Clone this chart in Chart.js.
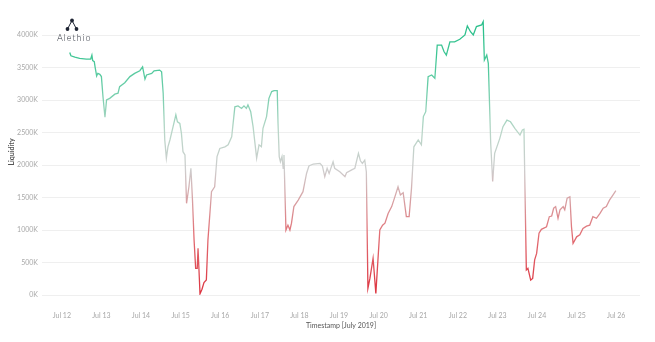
<!DOCTYPE html>
<html>
<head>
<meta charset="utf-8">
<script src="https://cdn.jsdelivr.net/npm/chart.js@4"></script>
<style>
  html, body { margin: 0; padding: 0; background: #fff; }
  #wrap { width: 655px; height: 342px; }
</style>
</head>
<body>
<div id="wrap"><canvas id="myChart" width="655" height="342"></canvas></div>
<script>
// day of July 2019 (decimal) and liquidity in K
var days = [
  12.20, 12.23, 12.33, 12.45, 12.62, 12.73, 12.76, 12.78, 12.82, 12.84, 12.88, 12.91, 12.96, 13.00, 13.04, 13.09,
  13.13, 13.21, 13.34, 13.42, 13.46, 13.59, 13.72, 13.84, 13.97, 14.04, 14.10, 14.14, 14.27, 14.33, 14.47, 14.52,
  14.56, 14.60, 14.64, 14.68, 14.73, 14.81, 14.88, 14.92, 14.98, 15.02, 15.06, 15.11, 15.15, 15.21, 15.26, 15.30,
  15.34, 15.38, 15.42, 15.44, 15.49, 15.54, 15.59, 15.65, 15.69, 15.78, 15.86, 15.92, 15.99, 16.12, 16.20, 16.29,
  16.37, 16.45, 16.54, 16.60, 16.66, 16.70, 16.77, 16.83, 16.92, 16.98, 17.04, 17.08, 17.17, 17.23, 17.30, 17.36,
  17.44, 17.46, 17.49, 17.52, 17.56, 17.59, 17.61, 17.66, 17.71, 17.76, 17.80, 17.86, 17.97, 18.09, 18.18, 18.24,
  18.35, 18.52, 18.58, 18.64, 18.70, 18.75, 18.85, 18.89, 19.02, 19.15, 19.19, 19.32, 19.40, 19.49, 19.54, 19.59,
  19.65, 19.69, 19.73, 19.78, 19.86, 19.93, 20.03, 20.10, 20.16, 20.24, 20.33, 20.41, 20.49, 20.55, 20.62, 20.70,
  20.77, 20.83, 20.89, 21.00, 21.08, 21.13, 21.19, 21.25, 21.34, 21.42, 21.48, 21.59, 21.65, 21.71, 21.80, 21.92,
  22.05, 22.18, 22.24, 22.32, 22.39, 22.47, 22.60, 22.64, 22.67, 22.73, 22.77, 22.83, 22.88, 22.93, 23.06, 23.14,
  23.24, 23.33, 23.44, 23.57, 23.63, 23.67, 23.73, 23.77, 23.84, 23.89, 23.94, 23.99, 24.05, 24.11, 24.24, 24.31,
  24.37, 24.42, 24.47, 24.53, 24.58, 24.66, 24.70, 24.76, 24.83, 24.87, 24.91, 25.00, 25.08, 25.16, 25.25, 25.33,
  25.41, 25.50, 25.59, 25.67, 25.75, 25.83, 25.92, 25.99
];
var liquidity = [
  3730, 3680, 3660, 3640, 3630, 3630, 3690, 3605, 3590, 3510, 3370, 3410, 3395, 3360, 3050, 2735,
  3000, 3025, 3090, 3105, 3205, 3265, 3360, 3410, 3450, 3510, 3320, 3385, 3410, 3450, 3460, 3435,
  3105, 2385, 2105, 2280, 2385, 2590, 2770, 2665, 2640, 2490, 2205, 2155, 1410, 1665, 1950, 1460,
  845, 410, 410, 720, 20, 90, 190, 230, 845, 1590, 1665, 2130, 2255, 2280, 2310, 2435,
  2895, 2910, 2870, 2910, 2870, 2925, 2820, 2590, 2105, 2310, 2280, 2565, 2745, 3025, 3130, 3145,
  3145, 2640, 2130, 2050, 2130, 1950, 2155, 1000, 1075, 1000, 1105, 1360, 1460, 1590, 1870, 1985,
  2015, 2025, 1985, 1820, 1950, 1870, 2050, 1950, 1895, 1820, 1880, 1925, 1950, 2180, 2065, 2025,
  2075, 1895, 105, 255, 565, 25, 1000, 1075, 1105, 1255, 1360, 1510, 1665, 1540, 1575, 1205,
  1205, 1640, 2280, 2385, 2310, 2745, 2820, 3360, 3385, 3335, 3845, 3845, 3745, 3690, 3895, 3895,
  3935, 4000, 4140, 4050, 4000, 4130, 4155, 4205, 3615, 3690, 3565, 2335, 1745, 2180, 2410, 2590,
  2690, 2665, 2565, 2460, 2540, 2550, 385, 410, 230, 255, 540, 640, 950, 1010, 1050, 1205,
  1215, 1335, 1360, 1180, 1310, 1360, 1310, 1490, 1510, 1050, 795, 895, 925, 1025, 1060, 1075,
  1205, 1180, 1255, 1335, 1360, 1460, 1540, 1605
];
var xTickDays = [12, 13, 14, 15, 16, 17, 18, 19, 20, 21, 22, 23, 24, 25, 26];
var yTickValues = [0, 500, 1000, 1500, 2000, 2500, 3000, 3500, 4000];

var points = days.map(function(d, i) { return { x: d, y: liquidity[i] }; });

function lineGradient(context) {
  var chart = context.chart;
  var area = chart.chartArea;
  if (!area) return '#cccccc';
  var y = chart.scales.y;
  var top = y.getPixelForValue(4200);
  var bottom = y.getPixelForValue(0);
  var g = chart.ctx.createLinearGradient(0, bottom, 0, top);
  g.addColorStop(0, 'rgb(220,50,62)');
  g.addColorStop(0.22, 'rgb(226,110,116)');
  g.addColorStop(0.46, 'rgb(206,206,206)');
  g.addColorStop(0.6, 'rgb(185,214,200)');
  g.addColorStop(0.75, 'rgb(110,206,170)');
  g.addColorStop(0.88, 'rgb(62,198,148)');
  g.addColorStop(1, 'rgb(40,190,138)');
  return g;
}

var logoPlugin = {
  id: 'logo',
  afterDraw: function(chart) {
    var ctx = chart.ctx;
    ctx.save();
    ctx.strokeStyle = '#1e2433';
    ctx.fillStyle = '#1e2433';
    ctx.lineWidth = 1;
    ctx.beginPath();
    ctx.moveTo(67.5, 29); ctx.lineTo(72, 20.5); ctx.lineTo(76.5, 29);
    ctx.stroke();
    [[72, 20.5], [67.5, 29], [76.5, 29]].forEach(function(p) {
      ctx.beginPath();
      ctx.arc(p[0], p[1], 1.9, 0, Math.PI * 2);
      ctx.fill();
    });
    ctx.font = '300 9px Lato';
    ctx.letterSpacing = '1px';
    ctx.textBaseline = 'middle';
    ctx.fillStyle = '#2a2f3a';
    ctx.fillText('Alethio', 57, 38.5);
    ctx.restore();
  }
};

var ctx = document.getElementById('myChart').getContext('2d');
var config = {
  type: 'line',
  data: {
    datasets: [{
      label: 'Liquidity',
      data: points,
      borderColor: lineGradient,
      borderWidth: 1.3,
      pointRadius: 0,
      tension: 0,
      fill: false
    }]
  },
  options: {
    responsive: false,
    animation: false,
    events: [],
    layout: { padding: { top: 9, right: 15, bottom: 8, left: 0 } },
    plugins: { legend: { display: false }, tooltip: { enabled: false } },
    scales: {
      x: {
        type: 'linear',
        min: 11.5,
        max: 26.6,
        afterBuildTicks: function(scale) {
          scale.ticks = xTickDays.map(function(v) { return { value: v }; });
        },
        afterFit: function(scale) { scale.height = 39; },
        grid: { display: false, drawTicks: false },
        border: { display: false },
        ticks: {
          autoSkip: false,
          maxRotation: 0,
          padding: 17,
          color: '#a8a8a8',
          font: { family: 'Lato', size: 7 },
          callback: function(v) { return 'Jul ' + v; }
        },
        title: {
          display: true,
          text: 'Timestamp [July 2019]',
          color: '#555',
          font: { family: 'Lato', size: 7 },
          padding: { top: 0, bottom: 4 }
        }
      },
      y: {
        min: 0,
        max: 4400,
        afterBuildTicks: function(scale) {
          scale.ticks = yTickValues.map(function(v) { return { value: v }; });
        },
        afterFit: function(scale) { scale.width = 42; },
        grid: { color: '#efefef', lineWidth: 1, drawTicks: false },
        border: { display: false },
        ticks: {
          padding: 4,
          color: '#a8a8a8',
          font: { family: 'Lato', size: 7 },
          callback: function(v) { return v + 'K'; }
        },
        title: {
          display: true,
          text: 'Liquidity',
          color: '#555',
          font: { family: 'Lato', size: 7, weight: 'bold' },
          padding: { top: 8, bottom: 0 }
        }
      }
    }
  },
  plugins: [logoPlugin]
};
var myChart = new Chart(ctx, config);
</script>
</body>
</html>
